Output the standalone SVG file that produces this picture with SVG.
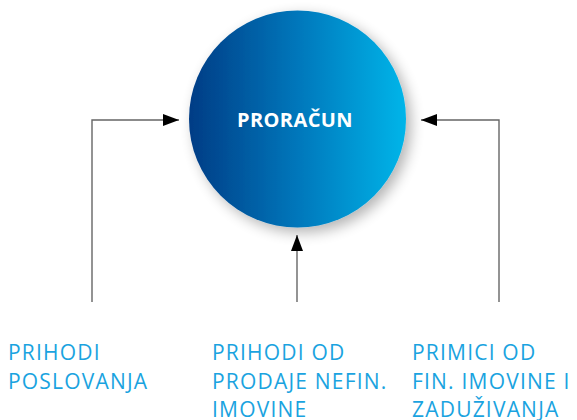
<svg xmlns="http://www.w3.org/2000/svg" width="577" height="420" viewBox="0 0 577 420">
<defs>
<linearGradient id="g" x1="0" y1="0" x2="1" y2="0">
<stop offset="0" stop-color="#003c85"/>
<stop offset="0.5" stop-color="#0077bb"/>
<stop offset="1" stop-color="#00b5e9"/>
</linearGradient>
<filter id="sh" x="-20%" y="-20%" width="150%" height="150%">
<feGaussianBlur in="SourceAlpha" stdDeviation="7"/>
<feOffset dx="5" dy="5" result="b"/>
<feComponentTransfer><feFuncA type="linear" slope="0.3"/></feComponentTransfer>
<feMerge><feMergeNode/><feMergeNode in="SourceGraphic"/></feMerge>
</filter>
<marker id="ah" viewBox="0 0 16 12" refX="16" refY="6" markerWidth="16" markerHeight="12" markerUnits="userSpaceOnUse" orient="auto">
<path d="M0,0 L16,6 L0,12 Z" fill="#000"/>
</marker>
</defs>
<style>
.c{fill:none;stroke:#666;stroke-width:1.4}
.lbl{font-family:"Open Sans","Noto Sans",sans-serif;font-size:21px;fill:#1aa3e0;letter-spacing:1.2px}
.t{font-family:"Open Sans","Noto Sans",sans-serif;font-size:20px;font-weight:bold;fill:#fff;letter-spacing:0.4px}
</style>
<g id="proracun">
<circle cx="297.5" cy="119" r="108.5" fill="url(#g)" filter="url(#sh)"/>
<text class="t" x="295" y="127" text-anchor="middle">PRORAČUN</text>
</g>
<g id="connectors">
<path class="c" d="M92,302 V120 H179" marker-end="url(#ah)"/>
<path class="c" d="M297,302 V235" marker-end="url(#ah)"/>
<path class="c" d="M499,302 V120 H421" marker-end="url(#ah)"/>
</g>
<g id="prihodi-poslovanja">
<text class="lbl" x="8" y="360">PRIHODI</text>
<text class="lbl" x="8" y="389">POSLOVANJA</text>
</g>
<g id="prihodi-nefin">
<text class="lbl" x="212" y="360">PRIHODI OD</text>
<text class="lbl" x="212" y="389">PRODAJE NEFIN.</text>
<text class="lbl" x="212" y="417">IMOVINE</text>
</g>
<g id="primici-fin">
<text class="lbl" x="412" y="360">PRIMICI OD</text>
<text class="lbl" x="412" y="389">FIN. IMOVINE I</text>
<text class="lbl" x="412" y="417">ZADUŽIVANJA</text>
</g>
</svg>
